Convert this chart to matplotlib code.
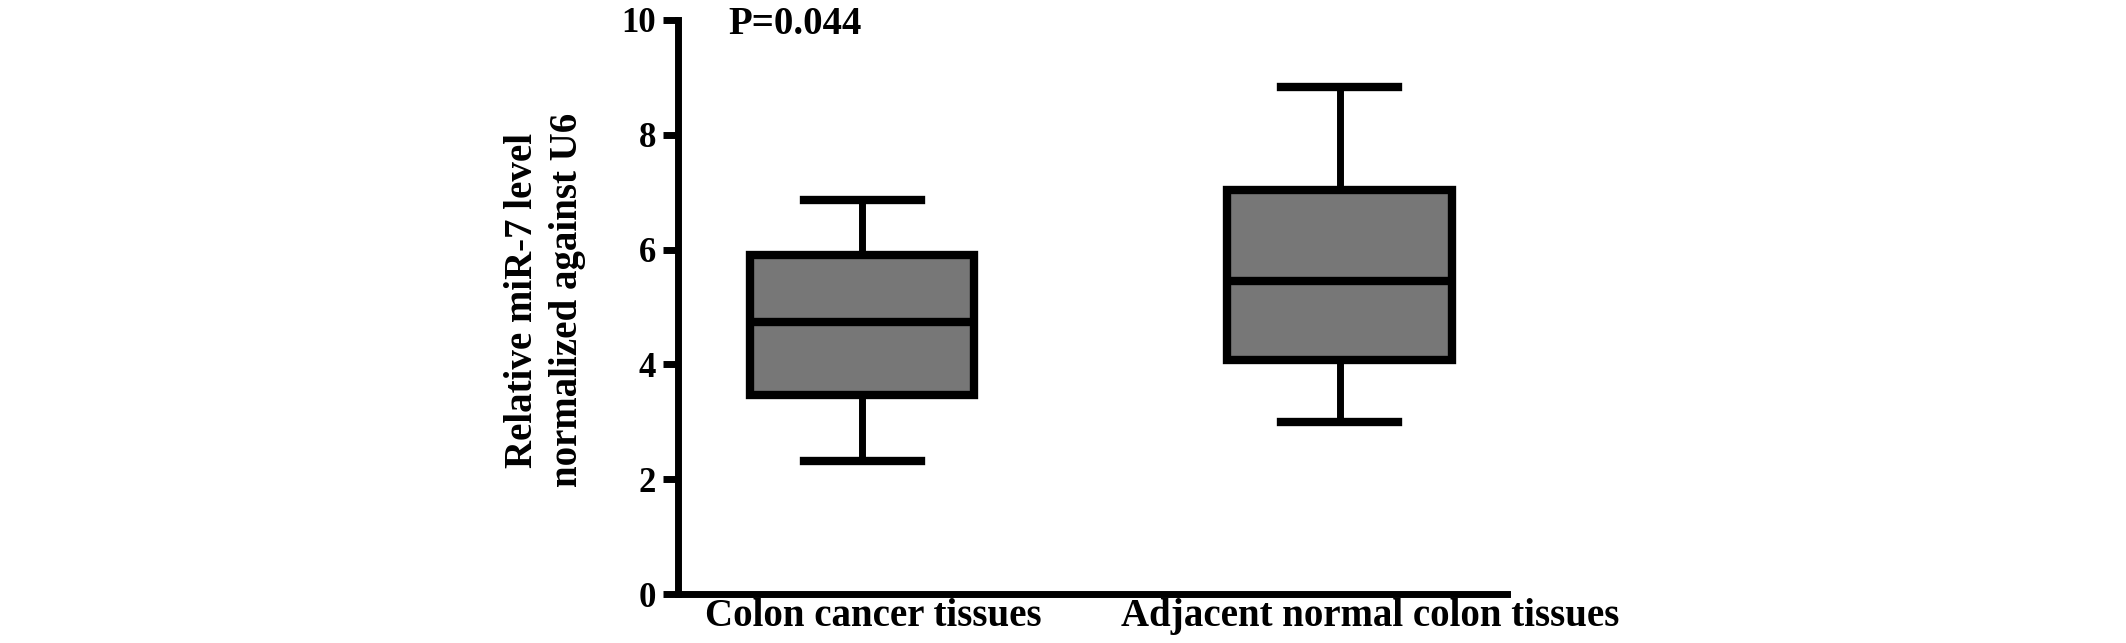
import matplotlib
matplotlib.use("Agg")
import matplotlib.pyplot as plt
import matplotlib.transforms as mtransforms

# five-number summaries
categories = ["Colon cancer tissues", "Adjacent normal colon tissues"]
whisker_low = [2.31, 3.00]
q1 = [3.47, 4.08]
median = [4.74, 5.45]
q3 = [5.90, 7.03]
whisker_high = [6.86, 8.84]
y_ticks = [0, 2, 4, 6, 8, 10]
p_text = "P=0.044"

plt.rcParams["font.family"] = ["Liberation Serif", "DejaVu Serif"]
plt.rcParams["font.weight"] = "bold"

fig = plt.figure(figsize=(21.26, 6.43), dpi=100)
ax = fig.add_axes([0.319, 0.0762, 0.39, 0.8927])

stats = []
for i, name in enumerate(categories):
    stats.append({
        "label": name,
        "whislo": whisker_low[i],
        "q1": q1[i],
        "med": median[i],
        "q3": q3[i],
        "whishi": whisker_high[i],
        "fliers": [],
    })

lw = 6
ax.bxp(stats, positions=[1, 2], widths=0.47, patch_artist=True,
       showfliers=False, capwidths=0.245,
       boxprops=dict(facecolor="#777777", edgecolor="black", linewidth=lw),
       medianprops=dict(color="black", linewidth=lw),
       whiskerprops=dict(color="black", linewidth=lw - 1),
       capprops=dict(color="black", linewidth=lw))

ax.set_xlim(0.615, 2.351)
ax.set_ylim(0, 10)
ax.set_yticks(y_ticks)
ax.set_xticks([1, 2])
ax.set_xticklabels(categories, fontsize=28, fontweight="bold")
ax.tick_params(axis="y", labelsize=25, width=5, length=11, pad=5)
ax.tick_params(axis="x", length=0, pad=3)
for t in ax.get_yticklabels():
    t.set_fontweight("bold")
# labels sit a little right of the boxes in the original
for t, dx in zip(ax.get_xticklabels(), [0.11, 0.30]):
    t.set_transform(t.get_transform()
                    + mtransforms.ScaledTranslation(dx, 0, fig.dpi_scale_trans))

for side in ["top", "right"]:
    ax.spines[side].set_visible(False)
for side in ["left", "bottom"]:
    ax.spines[side].set_linewidth(5)

ax.set_ylabel("Relative miR-7 level\nnormalized against U6", fontsize=28,
              fontweight="bold", linespacing=1.3, va="center")
ax.yaxis.set_label_coords(-0.161, 0.512)

ax.text(0.060, 0.993, p_text, transform=ax.transAxes, fontsize=28,
        fontweight="bold", va="center", ha="left")

fig.savefig("out.png", dpi=100)
